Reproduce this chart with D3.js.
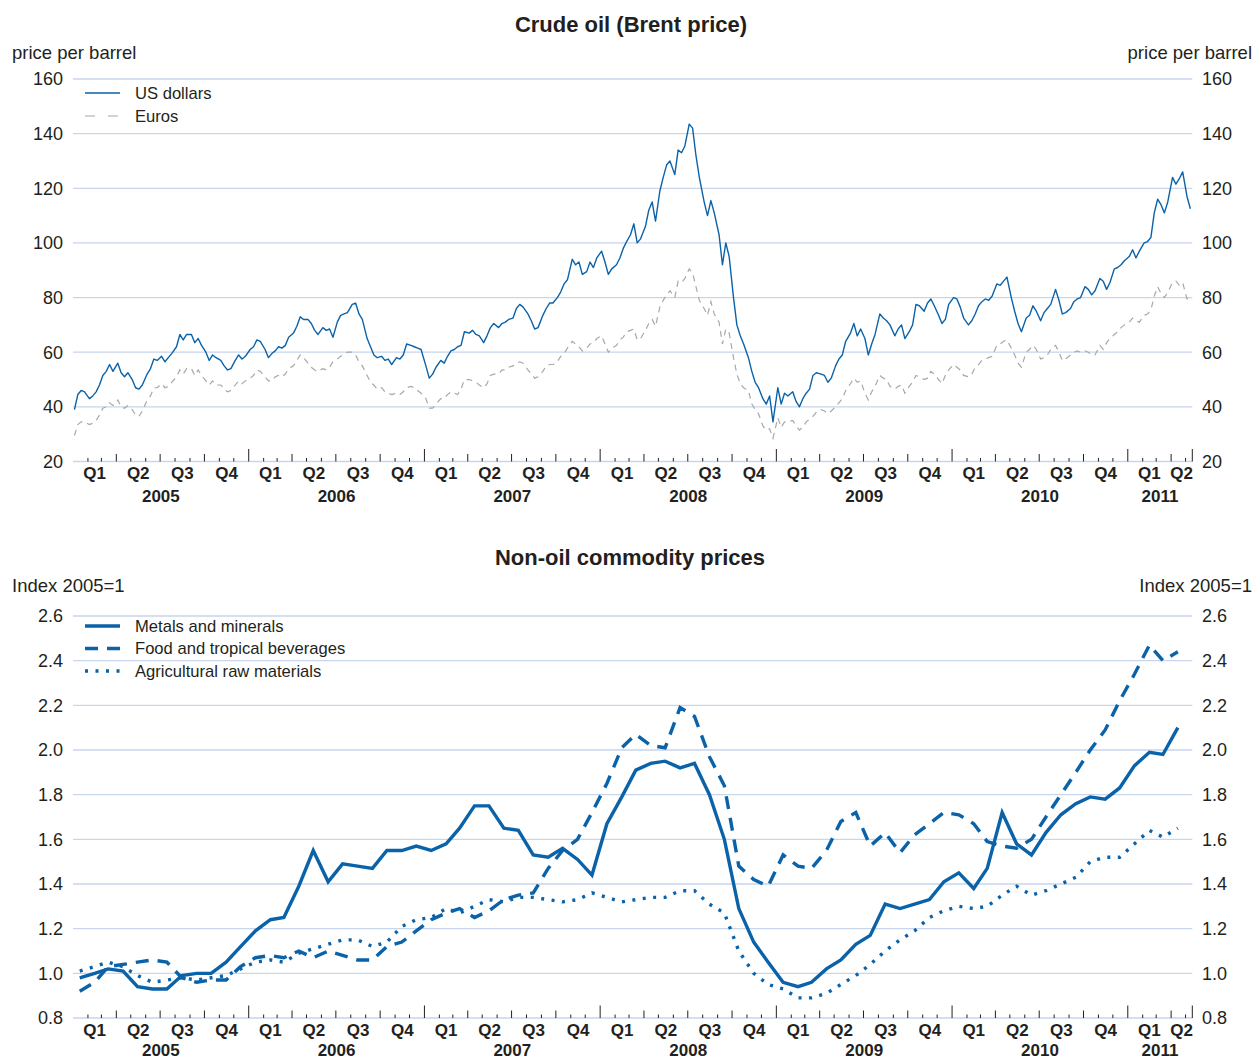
<!DOCTYPE html>
<html>
<head>
<meta charset="utf-8">
<script src="https://cdn.jsdelivr.net/npm/d3@7"></script>
<style>
body { margin: 0; background: #fff; }
text { font-family: "Liberation Sans", Arial, sans-serif; fill: #231f20; }
</style>
</head>
<body>
<script>
// Brent price, US dollars per barrel, four readings per month (days 4, 11, 18, 25)
const usd2005 = [39,44.5,46,45.5, 43,44,45.5,48, 51.5,53,55.5,53, 56,52.5,51,52.5, 50,47,46.5,48, 52,54,57.5,57,
  58.5,56.5,58,59.5, 62,66.5,64.5,66.5, 66.5,63.5,65,62.5, 60,57,59,58, 57,55,53.5,54, 57,59,57.5,58.5];
const usd2006 = [61,62,64.5,64, 61,58,59.5,60.5, 62,61.5,62.5,65.5, 67,69.5,73,72, 72,70.5,68,66.5, 69,68,68.5,65.5,
  71,73.5,74,74.5, 77.5,78,74,72, 65,62,59,58, 58.5,57,57.5,55.5, 58,57.5,59,63, 62.5,62,61.5,61];
const usd2007 = [55,50.5,52,54.5, 57,56,58.5,60.5, 61,62,62.5,67.5, 67,68,66.5,66, 63.5,66,69,70.5, 69,70.5,71,72,
  72.5,76,77.5,76.5, 74,71.5,68.5,69, 73.5,76,78,78, 80,82,85,86.5, 94,92,93,88.5, 89.5,93,91,94.5];
const usd2008 = [97,93,88.5,90.5, 92,94.5,98,100.5, 103,107,100,101.5, 106,112,115,108, 119,124,128.5,130, 125,134,133,135.5,
  143.5,142,132,124, 115,110,115.5,111, 103,92,100,95, 80,70,66,63, 58,53,49,47, 43,41,44,34.5];
const usd2009 = [47,41,45,44, 45.5,42,40,43, 45,46.5,51.5,52.5, 52,51.5,49,50.5, 55,57.5,59,64, 67,70.5,66,68.5,
  65,59,63,66.5, 74,72.5,71.5,70, 66,68.5,70,65, 67.5,70,77.5,77, 75,78,79.5,77, 73.5,70.5,72,77.5];
const usd2010 = [80,79.5,76.5,72.5, 70,71.5,74,77, 78.5,79.5,79,80.5, 85,84.5,86,87.5, 80,75,70.5,67.5, 72.5,73.5,77,75,
  71.5,74.5,76,77.5, 83,79,74,74.5, 76,78.5,79.5,80, 84,83,81,82.5, 87,86,83,85.5, 90.5,91,92,93.5];
const usd2011 = [95,97.5,94.5,97, 100,100.5,102,111, 116,114,111,115, 124,121.5,123.5,126, 117,112.5];

// Brent price, euros per barrel
const eur2005 = [29.5,33.5,34.5,34.5, 33.5,34,35,37, 39.5,40,41.5,40.5, 42.5,40,39.5,40.5, 39,37,36.5,38.5, 42.5,44,47,47,
  48.5,47,47.5,49, 51,53.5,52,54, 54,51.5,53.5,51.5, 49.5,48,49.5,48, 48,46.5,45.5,46, 48,49.5,48.5,49.5];
const eur2006 = [50.5,51.5,53.5,53, 51,49.5,49.5,51, 51.5,51,52,54, 55,57,59,58, 56,54.5,53.5,53, 54,53.5,54.5,56.5,
  57.5,58.5,59,60, 60,59,56.5,55, 51.5,49,48,46.5, 47,45.5,45,44.5, 45,44.5,45.5,47, 47.5,47,46,45];
const eur2007 = [43,39.5,39.5,41, 43,43,44.5,45.5, 45,44.5,46.5,50, 50,49.5,49,48, 47,48.5,51.5,52, 52,53.5,53.5,54.5,
  55,56,56.5,56, 53.5,52,50.5,51, 53,55,55.5,55.5, 56.5,58.5,59.5,61.5, 64,63,62,60.5, 61.5,63,63.5,65];
const eur2008 = [66,63,60,61.5, 62.5,64.5,65.5,67.5, 68,68.5,64.5,65, 68,70.5,72,69.5, 76.5,79,81,82.5, 80,86,85.5,87,
  90.5,89,84,79, 76,73.5,78.5,74, 71,63,68.5,67, 58,52,48.5,47, 46,41,39,37.5, 33,31.5,32,28.5];
const eur2009 = [36,32.5,34.5,34.5, 35,33,31.5,32.5, 34.5,35.5,36.5,38, 39,38.5,37.5,38.5, 40,41.5,43,46, 48.5,50.5,49,49.5,
  45,42.5,45.5,47.5, 51.5,50.5,50,47.5, 46.5,47.5,48,45, 47.5,49,51.5,51, 50,50.5,53,52, 50,48.5,51.5,53.5];
const eur2010 = [55.5,54.5,53.5,51.5, 51,52,54.5,55.5, 57,57.5,58,58.5, 62.5,63,64,64.5, 61.5,59,56,54.5, 60,61,62.5,61,
  57.5,58,59,61, 62.5,60,57,57.5, 59,60,60.5,60, 60.5,60,59,59, 62.5,61,63.5,65, 66.5,67.5,69,70];
const eur2011 = [71,72.5,71.5,71, 73.5,74,75.5,80.5, 84,81.5,80,82, 85.5,86,84.5,85.5, 79.5,80];

const oilYears = [2005, 2006, 2007, 2008, 2009, 2010, 2011];
const usdByYear = [usd2005, usd2006, usd2007, usd2008, usd2009, usd2010, usd2011];
const eurByYear = [eur2005, eur2006, eur2007, eur2008, eur2009, eur2010, eur2011];
const weekDays = [4, 11, 18, 25];

// Non-oil commodity indices (2005=1), monthly Jan 2005 - Apr 2011
const metals = [0.98,1.00,1.02,1.01,0.94,0.93,0.93,0.99,1.00,1.00,1.05,1.12,
  1.19,1.24,1.25,1.39,1.55,1.41,1.49,1.48,1.47,1.55,1.55,1.57,
  1.55,1.58,1.65,1.75,1.75,1.65,1.64,1.53,1.52,1.56,1.51,1.44,
  1.67,1.79,1.91,1.94,1.95,1.92,1.94,1.80,1.60,1.29,1.14,1.05,
  0.96,0.94,0.96,1.02,1.06,1.13,1.17,1.31,1.29,1.31,1.33,1.41,
  1.45,1.38,1.47,1.72,1.58,1.53,1.63,1.71,1.76,1.79,1.78,1.83,
  1.93,1.99,1.98,2.10];
const food = [0.92,0.96,1.03,1.04,1.05,1.06,1.05,0.98,0.96,0.97,0.97,1.03,
  1.07,1.08,1.07,1.10,1.07,1.10,1.08,1.06,1.06,1.12,1.14,1.19,
  1.24,1.27,1.29,1.25,1.28,1.33,1.35,1.36,1.47,1.55,1.60,1.72,
  1.85,2.01,2.07,2.02,2.01,2.19,2.15,1.97,1.84,1.48,1.42,1.39,
  1.53,1.48,1.47,1.55,1.68,1.72,1.57,1.63,1.54,1.62,1.67,1.72,
  1.71,1.67,1.59,1.57,1.56,1.60,1.70,1.80,1.90,2.00,2.09,2.22,
  2.34,2.47,2.40,2.44];
const agri = [1.01,1.03,1.05,1.03,0.99,0.96,0.97,0.98,0.97,0.98,0.99,1.02,
  1.05,1.06,1.05,1.09,1.11,1.13,1.15,1.15,1.12,1.14,1.21,1.24,
  1.25,1.29,1.27,1.30,1.33,1.32,1.34,1.34,1.33,1.32,1.33,1.36,
  1.34,1.32,1.33,1.34,1.34,1.37,1.37,1.31,1.27,1.10,1.00,0.95,
  0.93,0.89,0.89,0.91,0.95,0.99,1.04,1.10,1.15,1.19,1.25,1.28,
  1.30,1.29,1.30,1.35,1.39,1.35,1.37,1.40,1.43,1.50,1.52,1.52,
  1.58,1.64,1.61,1.65];

const oilTicks = [20, 40, 60, 80, 100, 120, 140, 160];
const indexTicks = [0.8, 1.0, 1.2, 1.4, 1.6, 1.8, 2.0, 2.2, 2.4, 2.6];

const blue = "#0a62a9";
const grey = "#a8a8a8";
const gridColor = "#c9d5ec";

const width = 1253, height = 1062;
const svg = d3.select("body").append("svg")
    .attr("width", width)
    .attr("height", height);

const startDate = new Date(2005, 0, 1);
const endDate = new Date(2011, 4, 15);
const x = d3.scaleTime().domain([startDate, endDate]).range([73, 1192.3]);

const yOil = d3.scaleLinear().domain([20, 160]).range([461.5, 79]);
const yIdx = d3.scaleLinear().domain([0.8, 2.6]).range([1018, 616]);

// titles
svg.append("text").attr("x", 631).attr("y", 32).attr("text-anchor", "middle")
    .attr("font-size", 22).attr("font-weight", "bold").text("Crude oil (Brent price)");
svg.append("text").attr("x", 630).attr("y", 565).attr("text-anchor", "middle")
    .attr("font-size", 22).attr("font-weight", "bold").text("Non-oil commodity prices");

let drawPanel = (y, ticks, fmt, unit, unitY, yearOffset) => {
    let g = svg.append("g");
    g.selectAll("line.grid").data(ticks).enter().append("line")
        .attr("x1", x.range()[0]).attr("x2", x.range()[1])
        .attr("y1", d => y(d)).attr("y2", d => y(d))
        .attr("stroke", gridColor).attr("stroke-width", 1.3);
    g.selectAll("text.left").data(ticks).enter().append("text")
        .attr("x", 63).attr("y", d => y(d)).attr("dy", "0.35em")
        .attr("text-anchor", "end").attr("font-size", 18).text(fmt);
    g.selectAll("text.right").data(ticks).enter().append("text")
        .attr("x", 1202).attr("y", d => y(d)).attr("dy", "0.35em")
        .attr("text-anchor", "start").attr("font-size", 18).text(fmt);
    g.append("text").attr("x", 12).attr("y", unitY).attr("font-size", 18.5).text(unit);
    g.append("text").attr("x", 1252).attr("y", unitY).attr("text-anchor", "end").attr("font-size", 18.5).text(unit);

    // time axis: month, quarter and year ticks rising from the base line
    let base = y.range()[0];
    let months = d3.timeMonth.range(new Date(2005, 1, 1), endDate);
    g.selectAll("line.tick").data(months).enter().append("line")
        .attr("x1", d => x(d)).attr("x2", d => x(d))
        .attr("y1", base)
        .attr("y2", d => base - (d.getMonth() === 0 ? 12.5 : d.getMonth() % 3 === 0 ? 7.5 : 3.5))
        .attr("stroke", "#231f20").attr("stroke-width", 1);
    g.append("line").attr("x1", x(endDate)).attr("x2", x(endDate))
        .attr("y1", base).attr("y2", base - 12.5).attr("stroke", "#231f20");

    let quarters = d3.timeMonth.every(3).range(startDate, endDate);
    g.selectAll("text.q").data(quarters).enter().append("text")
        .attr("x", d => (x(d) + x(d3.min([d3.timeMonth.offset(d, 3), endDate]))) / 2)
        .attr("y", base + 12).attr("dy", "0.35em")
        .attr("text-anchor", "middle").attr("font-size", 17).attr("font-weight", "bold")
        .text(d => "Q" + (Math.floor(d.getMonth() / 3) + 1));
    let years = d3.timeYear.range(startDate, endDate);
    g.selectAll("text.yr").data(years).enter().append("text")
        .attr("x", d => (x(d) + x(d3.min([d3.timeYear.offset(d, 1), endDate]))) / 2)
        .attr("y", base + yearOffset).attr("dy", "0.35em")
        .attr("text-anchor", "middle").attr("font-size", 17).attr("font-weight", "bold")
        .text(d => d.getFullYear());
};

drawPanel(yOil, oilTicks, d => d, "price per barrel", 59, 35);
drawPanel(yIdx, indexTicks, d3.format(".1f"), "Index 2005=1", 592, 32);

// weekly oil series
let toPoints = (byYear) => {
    let pts = [];
    byYear.forEach((vals, k) => {
        vals.forEach((v, i) => {
            pts.push({ date: new Date(oilYears[k], Math.floor(i / 4), weekDays[i % 4]), v: v });
        });
    });
    return pts;
};
let usd = toPoints(usdByYear);
let eur = toPoints(eurByYear);

let oilLine = d3.line().x(d => x(d.date)).y(d => yOil(d.v));
svg.append("path").datum(eur).attr("d", oilLine)
    .attr("fill", "none").attr("stroke", grey).attr("stroke-width", 1.2)
    .attr("stroke-dasharray", "6,5");
svg.append("path").datum(usd).attr("d", oilLine)
    .attr("fill", "none").attr("stroke", blue).attr("stroke-width", 1.4)
    .attr("stroke-linejoin", "round");

// monthly commodity series
let monthly = (vals) => vals.map((v, i) => ({ date: new Date(2005, i, 15), v: v }));
let idxLine = d3.line().x(d => x(d.date)).y(d => yIdx(d.v));
const series = [
    { name: "Metals and minerals", values: metals, dash: null },
    { name: "Food and tropical beverages", values: food, dash: "13,9" },
    { name: "Agricultural raw materials", values: agri, dash: "3,7.5" }
];
series.forEach(s => {
    svg.append("path").datum(monthly(s.values)).attr("d", idxLine)
        .attr("fill", "none").attr("stroke", blue).attr("stroke-width", 3.4)
        .attr("stroke-dasharray", s.dash);
});

// legends
let legTop = svg.append("g");
[{ name: "US dollars", color: blue, dash: null, w: 1.3 },
 { name: "Euros", color: grey, dash: "10,13", w: 1.2 }].forEach((d, i) => {
    let yy = 93 + i * 23;
    legTop.append("line").attr("x1", 85).attr("x2", 120).attr("y1", yy).attr("y2", yy)
        .attr("stroke", d.color).attr("stroke-width", d.w).attr("stroke-dasharray", d.dash);
    legTop.append("text").attr("x", 135).attr("y", yy).attr("dy", "0.35em")
        .attr("font-size", 16.6).text(d.name);
});
let legBot = svg.append("g");
series.forEach((s, i) => {
    let yy = 626 + i * 22.5;
    legBot.append("line").attr("x1", 85).attr("x2", 120).attr("y1", yy).attr("y2", yy)
        .attr("stroke", blue).attr("stroke-width", 3.4).attr("stroke-dasharray", s.dash);
    legBot.append("text").attr("x", 135).attr("y", yy).attr("dy", "0.35em")
        .attr("font-size", 16.6).text(s.name);
});
</script>
</body>
</html>
